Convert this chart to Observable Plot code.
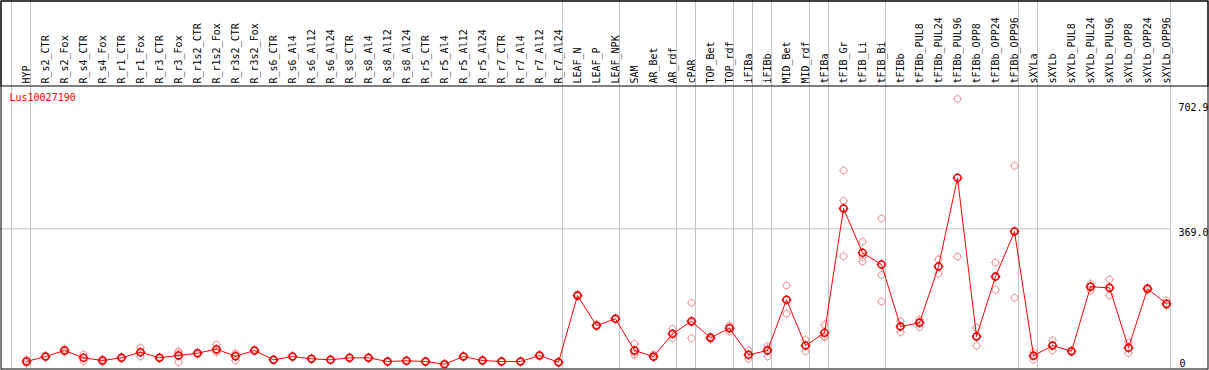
<!DOCTYPE html>
<html>
<head>
<meta charset="utf-8">
<script src="https://cdn.jsdelivr.net/npm/d3@7"></script>
<script src="https://cdn.jsdelivr.net/npm/@observablehq/plot@0.6"></script>
<style>
  html, body { margin: 0; padding: 0; background: #fff; }
  #chart svg { display: block; }
</style>
</head>
<body>
<div id="chart"></div>
<script>
const title = "Lus10027190";

const categories = [
  "HYP","R_s2_CTR","R_s2_Fox","R_s4_CTR","R_s4_Fox","R_r1_CTR","R_r1_Fox","R_r3_CTR","R_r3_Fox",
  "R_r1s2_CTR","R_r1s2_Fox","R_r3s2_CTR","R_r3s2_Fox","R_s6_CTR","R_s6_Al4","R_s6_Al12","R_s6_Al24",
  "R_s8_CTR","R_s8_Al4","R_s8_Al12","R_s8_Al24","R_r5_CTR","R_r5_Al4","R_r5_Al12","R_r5_Al24",
  "R_r7_CTR","R_r7_Al4","R_r7_Al12","R_r7_Al24","LEAF_N","LEAF_P","LEAF_NPK","SAM","AR_Bet","AR_rdf",
  "cPAR","TOP_Bet","TOP_rdf","iFIBa","iFIBb","MID_Bet","MID_rdf","tFIBa","tFIB_Gr","tFIB_Li","tFIB_Bi",
  "tFIBb","tFIBb_PUL8","tFIBb_PUL24","tFIBb_PUL96","tFIBb_OPP8","tFIBb_OPP24","tFIBb_OPP96",
  "sXYLa","sXYLb","sXYLb_PUL8","sXYLb_PUL24","sXYLb_PUL96","sXYLb_OPP8","sXYLb_OPP24","sXYLb_OPP96"
];

const means = [
  15.2, 28.5, 44.5, 25, 17.9, 25, 40, 25, 31.2,
  37.3, 48, 29.3, 44.5, 19.7, 28.5, 22.4, 19.7,
  25, 25, 15.2, 17, 15.2, 8, 28.5, 17.9,
  15.2, 15.2, 31.2, 13.3, 191, 111, 129, 44.5, 28.5, 89,
  122.6, 78.4, 104, 33, 44.5, 179.6, 57.8, 91.7, 423, 304.9, 273.7,
  108.5, 118.3, 268.4, 504.7, 81.8, 241.7, 361.6,
  30.4, 57.8, 42.6, 214.3, 211.6, 51.7, 209, 169
];

const replicates = [
  [19.7, 10.7], [30.5, 26.5], [48.5, 40.5], [34, 16], [22, 13.8], [27, 23], [51.5, 40, 28.5], [27, 23], [42.6, 37.7, 13.3],
  [39.5, 35], [60.5, 43.5, 40], [37.3, 32.7, 17.9], [46.5, 42.5], [21, 18.4], [30, 27], [24, 20.8], [21, 18.4],
  [26.5, 23.5], [26.5, 23.5], [16.5, 13.9], [18.5, 15.5], [16.5, 13.9], [9.5, 6.5], [30, 27], [19.5, 16.3],
  [16.5, 13.9], [16.5, 13.9], [33, 29.4], [15, 11.6], [194, 188], [113, 109], [131, 127], [62.4, 38, 33], [33.8, 25.9, 25.8], [102.3, 87.5, 77.3],
  [171.6, 118.9, 77.3], [81.8, 78.4, 75], [111.1, 105.8, 95.1], [44.5, 32.1, 22.4], [56, 49, 28.5], [217.7, 178.8, 142.3], [73, 57.8, 42.6], [113, 82.1, 80],
  [524, 444, 295.8], [334.2, 293.2, 281.7], [396.3, 246.2, 175.1],
  [122.6, 109.6, 93.3], [127.1, 121.2, 106.6], [287, 269.2, 249], [715.3, 295], [105, 83.4, 57], [279, 239.8, 206.3], [536.7, 363.1, 185],
  [40, 31.5, 19.7], [71.2, 57.7, 44.5], [44.5, 40.7], [222.3, 216.2, 204.4], [233.7, 210, 191.1], [66.6, 51.2, 37.3], [212, 206], [177.8, 164.8, 164.4]
];

// categories that start a new group (a grey divider is drawn before each)
const groupStarts = ["HYP","R_s2_CTR","LEAF_N","SAM","cPAR","TOP_Bet","iFIBa","iFIBb","MID_Bet","tFIBa","tFIB_Gr","tFIBb","sXYLa","sXYLb"];

const yTicks = [0, 369.0, 702.9];
const yTickLabels = ["0", "369.0", "702.9"];

const yMax = 702.9;

// build tables
const meanRows = categories.map((c, i) => ({cat: c, value: means[i]}));
const repRows = categories.flatMap((c, i) => replicates[i].map(v => ({cat: c, value: v})));
const tickRows = yTicks.map((v, i) => ({value: v, label: yTickLabels[i]}));

// circle with four small nubs
const nubCircle = {
  draw(ctx, size) {
    const r = Math.sqrt(size / Math.PI);
    const n = 1.3;
    ctx.moveTo(r, 0);
    ctx.arc(0, 0, r, 0, 2 * Math.PI);
    ctx.moveTo(0, -r); ctx.lineTo(0, -r - n);
    ctx.moveTo(0, r); ctx.lineTo(0, r + n);
    ctx.moveTo(-r, 0); ctx.lineTo(-r - n, 0);
    ctx.moveTo(r, 0); ctx.lineTo(r + n, 0);
  }
};

const chart = Plot.plot({
  width: 1209,
  height: 370,
  margin: 0,
  style: {fontFamily: "'DejaVu Sans Mono', monospace", fontSize: "10px", background: "#fff", color: "#000"},
  x: {type: "point", domain: categories, range: [26, 1166], padding: 0, axis: null},
  y: {type: "linear", domain: [0, yMax], range: [366.7, 103], axis: null},
  marks: [
    // vertical group dividers
    Plot.ruleX(groupStarts, {x: d => d, dx: -15, stroke: "#c4c4c4", strokeWidth: 1, insetBottom: 1}),
    Plot.ruleX([categories[categories.length - 1]], {x: d => d, dx: 4, stroke: "#c4c4c4", strokeWidth: 1, insetBottom: 1}),
    // horizontal grid line
    Plot.ruleY([369.0], {stroke: "#c4c4c4", strokeWidth: 1, insetRight: 38.5}),
    // header box and outer border
    Plot.frame({stroke: "#000", strokeWidth: 1, insetTop: 0.5, insetLeft: 0.5, insetRight: 1.5, insetBottom: 284.5}),
    Plot.frame({stroke: "#000", strokeWidth: 1, insetTop: 0.5, insetLeft: 0.5, insetRight: 1.5, insetBottom: 1.5}),
    // category labels (rotated)
    Plot.text(categories, {
      x: d => d, text: d => d, frameAnchor: "top", dy: 83,
      rotate: -90, textAnchor: "start", lineAnchor: "middle", fill: "#000"
    }),
    // y tick labels
    Plot.text(tickRows.filter(d => d.value > 0), {
      y: "value", text: "label", frameAnchor: "left", dx: 1178,
      textAnchor: "start", lineAnchor: "top", fill: "#000"
    }),
    Plot.text(tickRows.filter(d => d.value === 0), {
      y: "value", text: "label", frameAnchor: "left", dx: 1179,
      textAnchor: "start", lineAnchor: "bottom", fill: "#000"
    }),
    // title
    Plot.text([title], {
      text: d => d, frameAnchor: "top-left", dx: 9, dy: 97,
      textAnchor: "start", lineAnchor: "middle", fill: "#ff0000", fontSize: 10
    }),
    // replicates
    Plot.dot(repRows, {x: "cat", y: "value", r: 3.3, symbol: nubCircle, stroke: "#f09a9a", strokeWidth: 1, fill: "none"}),
    // mean line
    Plot.line(meanRows, {x: "cat", y: "value", stroke: "#ff0000", strokeWidth: 1}),
    // mean markers
    Plot.dot(meanRows, {x: "cat", y: "value", r: 3.5, symbol: nubCircle, stroke: "#e80000", strokeWidth: 1.5, fill: "none"})
  ]
});

document.getElementById("chart").appendChild(chart);
</script>
</body>
</html>
